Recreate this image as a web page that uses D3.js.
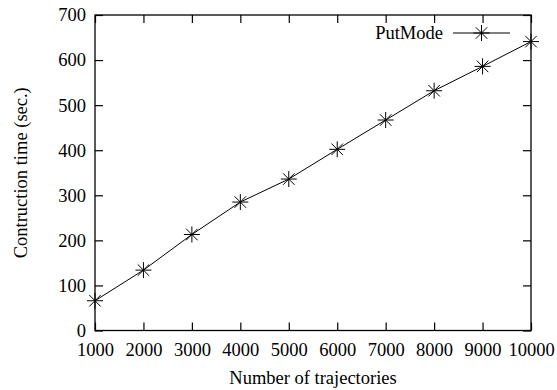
<!DOCTYPE html>
<html>
<head>
<meta charset="utf-8">
<script src="https://cdn.jsdelivr.net/npm/d3@7"></script>
<style>
  body { margin: 0; background: #fff; }
  text { font-family: "Liberation Serif", "Times New Roman", serif; fill: #000; }
</style>
</head>
<body>
<script>
// data
var trajectories = [1000, 2000, 3000, 4000, 5000, 6000, 7000, 8000, 9000, 10000];
var putModeTime = [66, 134, 213, 285, 336, 402, 467, 532, 586, 641];
var xTicks = [1000, 2000, 3000, 4000, 5000, 6000, 7000, 8000, 9000, 10000];
var yTicks = [0, 100, 200, 300, 400, 500, 600, 700];

var width = 557, height = 390;
var plot = {left: 95, right: 531, top: 15, bottom: 330.5};
var fontSize = '18.5px';

var svg = d3.select('body').append('svg').attr('width', width).attr('height', height);

var x = d3.scaleLinear().domain([1000, 10000]).range([plot.left, plot.right]);
var y = d3.scaleLinear().domain([0, 700]).range([plot.bottom, plot.top]);

// axes with inward ticks on all four sides
var tickLen = 8;
svg.append('g').attr('transform', 'translate(0,' + plot.bottom + ')')
  .call(d3.axisBottom(x).tickValues(xTicks).tickSize(-tickLen).tickPadding(12.5).tickFormat(d3.format('d')))
  .call(function(g) { g.select('.domain').remove(); });
svg.append('g').attr('transform', 'translate(0,' + plot.top + ')')
  .call(d3.axisTop(x).tickValues(xTicks).tickSize(-tickLen).tickFormat(''))
  .call(function(g) { g.select('.domain').remove(); });
svg.append('g').attr('transform', 'translate(' + plot.left + ',0)')
  .call(d3.axisLeft(y).tickValues(yTicks).tickSize(-tickLen).tickPadding(9))
  .call(function(g) { g.select('.domain').remove(); });
svg.append('g').attr('transform', 'translate(' + plot.right + ',0)')
  .call(d3.axisRight(y).tickValues(yTicks).tickSize(-tickLen).tickFormat(''))
  .call(function(g) { g.select('.domain').remove(); });

svg.selectAll('.tick line').attr('stroke', '#000').attr('stroke-width', 1.2);
svg.selectAll('.tick text').style('font-family', '"Liberation Serif", serif').style('font-size', fontSize).attr('fill', '#000');

// frame
svg.append('rect')
  .attr('x', plot.left).attr('y', plot.top)
  .attr('width', plot.right - plot.left).attr('height', plot.bottom - plot.top)
  .attr('fill', 'none').attr('stroke', '#000').attr('stroke-width', 1.3);

// axis titles
svg.append('text').attr('x', (plot.left + plot.right) / 2).attr('y', 384)
  .attr('text-anchor', 'middle').style('font-size', fontSize).text('Number of trajectories');
svg.append('text').attr('transform', 'translate(27,' + ((plot.top + plot.bottom) / 2) + ') rotate(-90)')
  .attr('text-anchor', 'middle').style('font-size', fontSize).text('Contruction time (sec.)');

// series
var pts = trajectories.map(function(d, i) { return {x: d, y: putModeTime[i]}; });
var line = d3.line().x(function(d) { return x(d.x); }).y(function(d) { return y(d.y); });
svg.append('path').datum(pts).attr('d', line)
  .attr('fill', 'none').attr('stroke', '#000').attr('stroke-width', 1);

var r = 8;
var star = 'M' + (-r) + ',0H' + r + 'M0,' + (-r) + 'V' + r +
  'M' + (-r * 0.72) + ',' + (-r * 0.72) + 'L' + (r * 0.72) + ',' + (r * 0.72) +
  'M' + (-r * 0.72) + ',' + (r * 0.72) + 'L' + (r * 0.72) + ',' + (-r * 0.72);

svg.selectAll('.mark').data(pts).enter().append('path')
  .attr('class', 'mark')
  .attr('transform', function(d) { return 'translate(' + x(d.x) + ',' + y(d.y) + ')'; })
  .attr('d', star).attr('fill', 'none').attr('stroke', '#000').attr('stroke-width', 1);

// legend
var legY = 33;
svg.append('text').attr('x', 443).attr('y', legY + 6).attr('text-anchor', 'end')
  .style('font-size', fontSize).text('PutMode');
svg.append('line').attr('x1', 453).attr('x2', 510).attr('y1', legY).attr('y2', legY)
  .attr('stroke', '#000').attr('stroke-width', 1);
svg.append('path').attr('transform', 'translate(481.5,' + legY + ')')
  .attr('d', star).attr('fill', 'none').attr('stroke', '#000').attr('stroke-width', 1);
</script>
</body>
</html>
